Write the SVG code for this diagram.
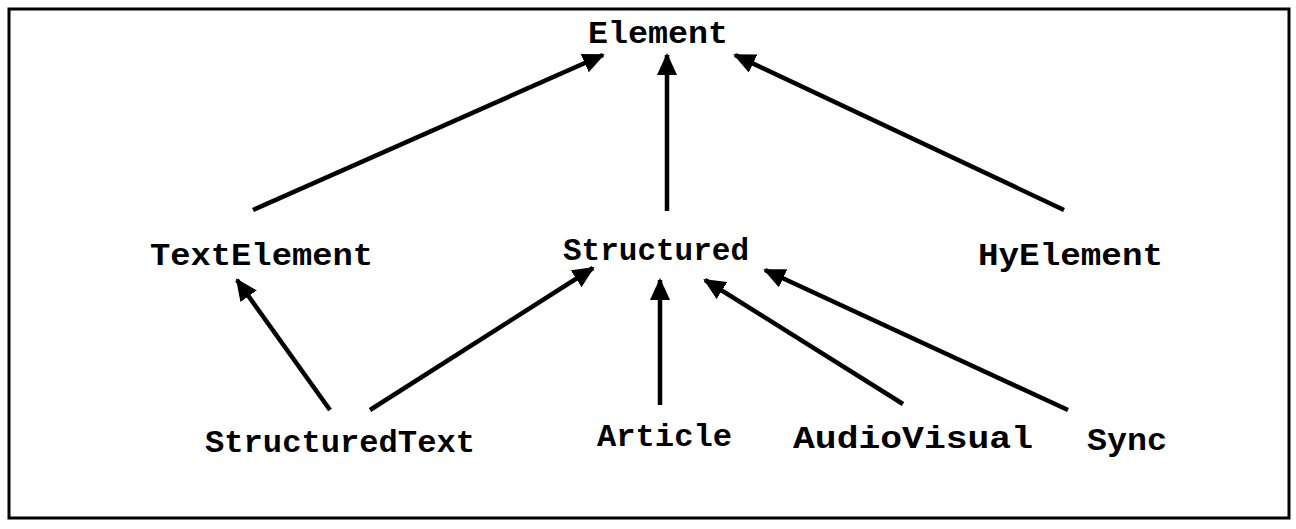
<svg xmlns="http://www.w3.org/2000/svg" width="1296" height="529" viewBox="0 0 1296 529">
<defs>
<style>
.lbl{font-family:"Liberation Mono","Courier New",monospace;font-size:31px;font-weight:bold;fill:#000}
.edge{stroke:#000;stroke-width:4.5;fill:none;marker-end:url(#ah)}
</style>
<marker id="ah" markerUnits="userSpaceOnUse" markerWidth="22" markerHeight="20" viewBox="0 0 22 20" refX="20" refY="10" orient="auto">
<path d="M0,0 L22,10 L0,20 Z" fill="#000"/>
</marker>
</defs>
<rect x="0" y="0" width="1296" height="529" fill="#fff"/>
<rect x="9" y="9" width="1280" height="509" fill="none" stroke="#000" stroke-width="3"/>
<g id="connectors">
<line class="edge" x1="253" y1="210" x2="603" y2="55"/>
<line class="edge" x1="667" y1="211" x2="667" y2="55"/>
<line class="edge" x1="1064" y1="210" x2="735" y2="55"/>
<line class="edge" x1="330" y1="410" x2="237" y2="280"/>
<line class="edge" x1="370" y1="410" x2="593" y2="268"/>
<line class="edge" x1="660" y1="405" x2="660" y2="280"/>
<line class="edge" x1="903" y1="404" x2="705" y2="280"/>
<line class="edge" x1="1068" y1="410" x2="765" y2="270"/>
</g>
<g id="n-element"><text class="lbl" x="588" y="43" textLength="140" lengthAdjust="spacingAndGlyphs">Element</text></g>
<g id="n-textelement"><text class="lbl" x="150" y="265" textLength="223" lengthAdjust="spacingAndGlyphs">TextElement</text></g>
<g id="n-structured"><text class="lbl" x="563" y="260" textLength="186" lengthAdjust="spacingAndGlyphs">Structured</text></g>
<g id="n-hyelement"><text class="lbl" x="978" y="265" textLength="185" lengthAdjust="spacingAndGlyphs">HyElement</text></g>
<g id="n-structuredtext"><text class="lbl" x="205" y="452" textLength="270" lengthAdjust="spacingAndGlyphs">StructuredText</text></g>
<g id="n-article"><text class="lbl" x="597" y="446" textLength="135" lengthAdjust="spacingAndGlyphs">Article</text></g>
<g id="n-audiovisual"><text class="lbl" x="793" y="448" textLength="240" lengthAdjust="spacingAndGlyphs">AudioVisual</text></g>
<g id="n-sync"><text class="lbl" x="1087" y="450" textLength="80" lengthAdjust="spacingAndGlyphs">Sync</text></g>
</svg>
